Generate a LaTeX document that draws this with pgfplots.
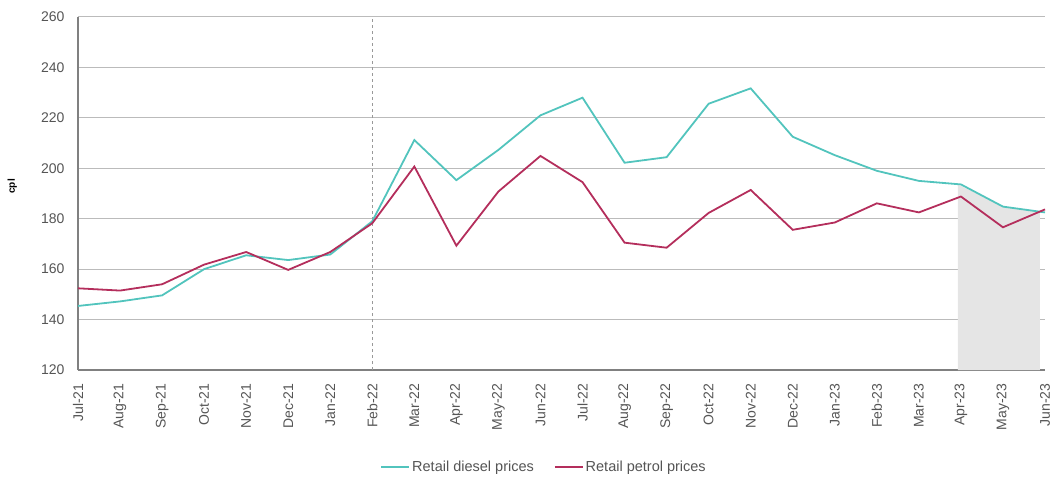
\documentclass[border=0pt]{standalone}
\usepackage{pgfplots}
\pgfplotsset{compat=1.18}
\usepackage{fontspec}
\setmainfont{Liberation Sans}
\definecolor{diesel}{HTML}{52C4BD}
\definecolor{petrol}{HTML}{B42E5C}
\definecolor{txt}{HTML}{555555}
\definecolor{gridc}{HTML}{BBBBBB}
\begin{document}
\begin{tikzpicture}
\begin{axis}[
  scale only axis,
  width=967pt, height=353pt,
  xmin=0, xmax=23, ymin=120, ymax=260,
  ytick={120,140,...,260},
  xtick={0,...,23},
  xticklabels={Jul-21,Aug-21,Sep-21,Oct-21,Nov-21,Dec-21,Jan-22,Feb-22,Mar-22,Apr-22,May-22,Jun-22,Jul-22,Aug-22,Sep-22,Oct-22,Nov-22,Dec-22,Jan-23,Feb-23,Mar-23,Apr-23,May-23,Jun-23},
  xticklabel style={rotate=90, anchor=east, xshift=-10pt, font=\fontsize{14}{16}\selectfont, text=txt},
  yticklabel style={xshift=-10pt, font=\fontsize{14}{16}\selectfont, text=txt},
  /pgf/number format/assume math mode=true,
  ymajorgrids, grid style={gridc, line width=1pt},
  axis x line*=bottom, axis y line*=left,
  axis line style={gray, line width=1.2pt},
  tick style={draw=none},
  major tick length=0pt,
  xtick pos=bottom, ytick pos=left,
  ylabel={\textbf{cpl}},
  ylabel style={font=\fontsize{13}{15}\selectfont, text=txt},
  every axis y label/.style={at={(-0.068,0.52)}, rotate=90, anchor=center},
  legend style={at={(0.482,-0.275)}, anchor=center, draw=none, legend columns=2,
    font=\fontsize{14.5}{16}\selectfont, /tikz/every even column/.append style={column sep=18pt}},
  legend image code/.code={\draw[#1, line width=1.8pt] (0pt,0pt) -- (28pt,0pt);},
  clip=false,
]
\addplot[fill=black!10, draw=none, forget plot] coordinates {(20.93,120) (20.93,193.6) (22,184.8) (22.88,183) (22.88,120)} -- cycle;
\addplot[gray!80, dashed, line width=1pt, forget plot] coordinates {(7,120) (7,260)};
\addplot[color=diesel, line width=1.8pt] coordinates {
(0,145.4) (1,147.2) (2,149.6) (3,160) (4,165.5) (5,163.6) (6,165.8) (7,179)
(8,211.2) (9,195.3) (10,207.3) (11,221) (12,228) (13,202.2) (14,204.4) (15,225.6)
(16,231.7) (17,212.5) (18,205.2) (19,199) (20,195) (21,193.6) (22,184.8) (23,182.5)};
\addlegendentry{\textcolor{txt}{Retail diesel prices}}
\addplot[color=petrol, line width=1.8pt] coordinates {
(0,152.4) (1,151.5) (2,154) (3,161.8) (4,166.8) (5,159.7) (6,166.8) (7,178.2)
(8,200.7) (9,169.3) (10,190.8) (11,204.9) (12,194.5) (13,170.5) (14,168.5) (15,182.3)
(16,191.4) (17,175.6) (18,178.5) (19,186.1) (20,182.5) (21,188.8) (22,176.6) (23,183.7)};
\addlegendentry{\textcolor{txt}{Retail petrol prices}}
\end{axis}
\pgfresetboundingbox
\useasboundingbox (-78pt,-109pt) rectangle (978pt,370pt);
\end{tikzpicture}
\end{document}
